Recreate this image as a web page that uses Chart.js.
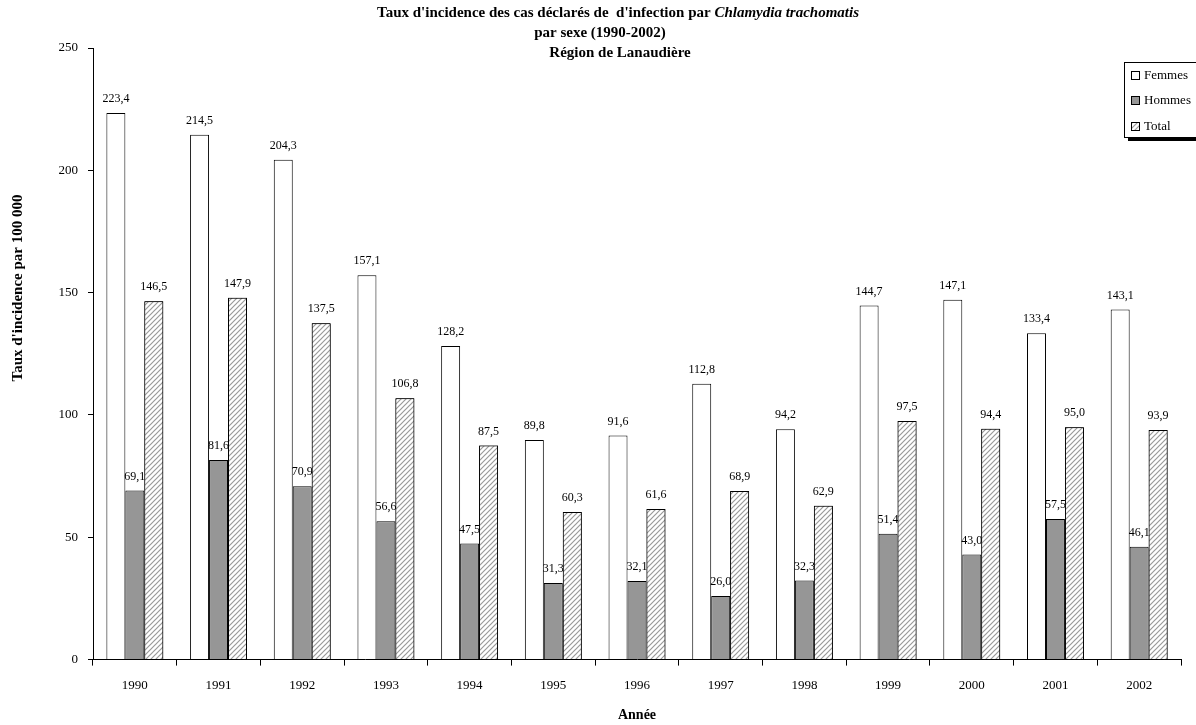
<!DOCTYPE html>
<html>
<head>
<meta charset="utf-8">
<script src="https://cdn.jsdelivr.net/npm/chart.js@4.4.1/dist/chart.umd.min.js"></script>
<style>
html,body{margin:0;padding:0;background:#fff;}
#wrap{width:1196px;height:725px;position:relative;}
</style>
</head>
<body>
<div id="wrap"><canvas id="c"></canvas></div>
<script>
const categories = ['1990','1991','1992','1993','1994','1995','1996','1997','1998','1999','2000','2001','2002'];
const femmes = [223.4, 214.5, 204.3, 157.1, 128.2, 89.8, 91.6, 112.8, 94.2, 144.7, 147.1, 133.4, 143.1];
const hommes = [69.1, 81.6, 70.9, 56.6, 47.5, 31.3, 32.1, 26.0, 32.3, 51.4, 43.0, 57.5, 46.1];
const total = [146.5, 147.9, 137.5, 106.8, 87.5, 60.3, 61.6, 68.9, 62.9, 97.5, 94.4, 95.0, 93.9];
const seriesNames = ['Femmes', 'Hommes', 'Total'];
const titleLine1a = "Taux d'incidence des cas déclarés de  d'infection par ";
const titleLine1b = "Chlamydia trachomatis";
const titleLine2 = "par sexe (1990-2002)";
const titleLine3 = "Région de Lanaudière";
const yTitle = "Taux d'incidence par 100 000";
const xTitle = "Année";

const SERIF = "'Liberation Serif', 'Times New Roman', serif";

function hatch() {
  const s = 5;
  const p = document.createElement('canvas');
  p.width = s; p.height = s;
  const g = p.getContext('2d');
  g.fillStyle = '#fff';
  g.fillRect(0, 0, s, s);
  g.strokeStyle = '#9a9a9a';
  g.lineWidth = 1.2;
  g.beginPath();
  g.moveTo(0, s); g.lineTo(s, 0);
  g.moveTo(-1, 1); g.lineTo(1, -1);
  g.moveTo(s - 1, s + 1); g.lineTo(s + 1, s - 1);
  g.stroke();
  return document.getElementById('c').getContext('2d').createPattern(p, 'repeat');
}
const hatchPattern = hatch();

function fmt(v) { return v.toFixed(1).replace('.', ','); }

function drawLabels(chart, idx) {
  const ctx = chart.ctx;
  const meta = chart.getDatasetMeta(idx);
  const ds = chart.data.datasets[idx];
  ctx.save();
  ctx.font = '12px ' + SERIF;
  ctx.fillStyle = '#000';
  ctx.textAlign = 'center';
  ctx.textBaseline = 'bottom';
  meta.data.forEach((bar, i) => {
    ctx.fillText(fmt(ds.data[i]), bar.x, bar.y - 8);
  });
  ctx.restore();
}

const labelPlugin = {
  id: 'barLabels',
  afterDatasetsDraw(chart) {
    const ctx = chart.ctx;
    drawLabels(chart, 0);
    drawLabels(chart, 1);
    // Total bars sit on top of the Hommes labels, as in the original
    chart.getDatasetMeta(2).data.forEach(el => el.draw(ctx));
    drawLabels(chart, 2);
  }
};

const decorPlugin = {
  id: 'decor',
  afterDraw(chart) {
    const ctx = chart.ctx;
    ctx.save();
    ctx.fillStyle = '#000';
    ctx.textBaseline = 'middle';
    const f1 = 'bold 15px ' + SERIF;
    const f1i = 'italic bold 15px ' + SERIF;
    ctx.font = f1; const w1 = ctx.measureText(titleLine1a).width;
    ctx.font = f1i; const w2 = ctx.measureText(titleLine1b).width;
    const cx = 618;
    let x0 = cx - (w1 + w2) / 2;
    ctx.textAlign = 'left';
    ctx.font = f1; ctx.fillText(titleLine1a, x0, 13);
    ctx.font = f1i; ctx.fillText(titleLine1b, x0 + w1, 13);
    ctx.textAlign = 'center';
    ctx.font = f1;
    ctx.fillText(titleLine2, 600, 33);
    ctx.fillText(titleLine3, 620, 53);
    // Y title
    ctx.save();
    ctx.translate(18, 288);
    ctx.rotate(-Math.PI / 2);
    ctx.font = 'bold 15px ' + SERIF;
    ctx.fillText(yTitle, 0, 0);
    ctx.restore();
    // Legend
    const lx = 1124, ly = 62, lw = 90, lh = 75;
    ctx.fillStyle = '#000';
    ctx.fillRect(lx + 4, ly + 4, lw, lh);
    ctx.fillStyle = '#fff';
    ctx.fillRect(lx, ly, lw, lh);
    ctx.strokeStyle = '#000';
    ctx.lineWidth = 1;
    ctx.strokeRect(lx + 0.5, ly + 0.5, lw, lh);
    const fills = chart.data.datasets.map(d => d.backgroundColor);
    ctx.font = '13px ' + SERIF;
    ctx.textAlign = 'left';
    ctx.textBaseline = 'middle';
    const ys = [75, 100, 126];
    seriesNames.forEach((n, i) => {
      ctx.fillStyle = fills[i];
      ctx.fillRect(lx + 7, ys[i] - 4, 9, 9);
      ctx.strokeStyle = '#000';
      ctx.strokeRect(lx + 7.5, ys[i] - 3.5, 8, 8);
      ctx.fillStyle = '#000';
      ctx.fillText(n, lx + 20, ys[i] + 1);
    });
    ctx.restore();
  }
};

new Chart(document.getElementById('c'), {
  type: 'bar',
  data: {
    labels: categories,
    datasets: [
      { label: seriesNames[0], data: femmes, backgroundColor: '#ffffff', borderColor: '#000', borderWidth: 1 },
      { label: seriesNames[1], data: hommes, backgroundColor: '#969696', borderColor: '#000', borderWidth: 1 },
      { label: seriesNames[2], data: total, backgroundColor: hatchPattern, borderColor: '#000', borderWidth: 1 }
    ]
  },
  options: {
    responsive: true,
    maintainAspectRatio: false,
    animation: false,
    events: [],
    layout: { padding: { top: 48, right: 15, left: 0, bottom: 0 } },
    datasets: { bar: { categoryPercentage: 0.68, barPercentage: 1.0 } },
    plugins: { legend: { display: false }, title: { display: false }, tooltip: { enabled: false } },
    scales: {
      x: {
        grid: { display: true, drawOnChartArea: false, offset: true, color: '#000', tickLength: 6 },
        border: { display: true, color: '#000', width: 1 },
        ticks: { color: '#000', font: { family: SERIF, size: 13 }, padding: 12, maxRotation: 0 },
        title: { display: true, text: xTitle, color: '#000', font: { family: SERIF, size: 14, weight: 'bold' }, padding: { top: 2, bottom: 1 } }
      },
      y: {
        min: 0, max: 250,
        afterFit(s) { s.width = 93; },
        grid: { display: true, drawOnChartArea: false, color: '#000', tickLength: 5 },
        border: { display: true, color: '#000', width: 1 },
        ticks: { stepSize: 50, color: '#000', font: { family: SERIF, size: 13 }, padding: 10 }
      }
    }
  },
  plugins: [labelPlugin, decorPlugin]
});
</script>
</body>
</html>
